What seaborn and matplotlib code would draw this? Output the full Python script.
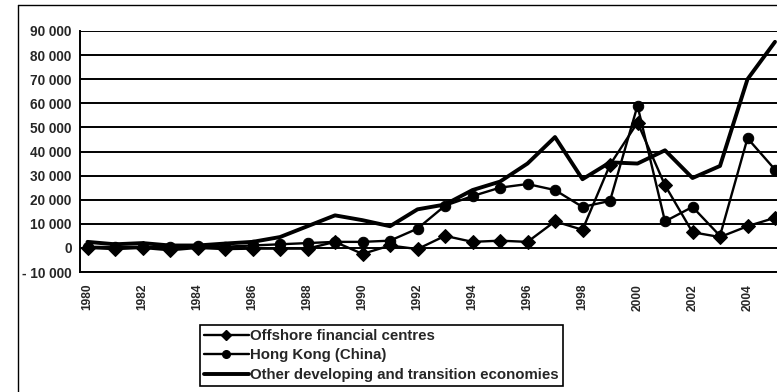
import matplotlib
matplotlib.use("Agg")
import matplotlib.pyplot as plt
import numpy as np
import pandas as pd
import seaborn as sns
from matplotlib.lines import Line2D
from matplotlib.ticker import FuncFormatter

# FDI outflows, millions of dollars
years = list(range(1980, 2006))
offshore = [0, -500, 0, -1000, 0, -500, -300, -300, -300, 2500, -2500, 1000, -500,
            5000, 2500, 3000, 2500, 11000, 7500, 34500, 52000, 26000, 6500, 4500, 9000, 12500]
hong_kong = [500, 300, 500, 300, 700, 500, 1000, 1500, 2000, 2500, 2500, 3000, 8000,
             17500, 21500, 25000, 26500, 24000, 17000, 19500, 59000, 11000, 17000, 5000, 45500, 32500]
other = [2500, 1500, 2000, 1000, 1000, 1800, 2500, 4500, 9000, 13500, 11500, 9000, 16000,
         18000, 24000, 27500, 35000, 46000, 28500, 35500, 35000, 40500, 29000, 34000, 70000, 85500]

series_names = ["Offshore financial centres", "Hong Kong (China)",
                "Other developing and transition economies"]
year_ticks = list(range(1980, 2005, 2))
y_ticks = list(range(-10000, 90001, 10000))

sns.set_style("white")
plt.rcParams["font.family"] = ["Liberation Sans", "DejaVu Sans"]
plt.rcParams["font.weight"] = "bold"

W, H = 777, 392
fig = plt.figure(figsize=(W / 100, H / 100), dpi=100)
ax = fig.add_axes([80 / W, 1 - 272 / H, (W - 80) / W, 241 / H])

df = pd.DataFrame({"year": years, "offshore": offshore,
                   "hk": hong_kong, "other": other})

sns.lineplot(data=df, x="year", y="other", ax=ax, color="black", lw=2.8,
             zorder=3)
sns.lineplot(data=df, x="year", y="hk", ax=ax, color="black", lw=1.7,
             marker="o", markersize=7.5, markeredgecolor="black", zorder=4)
sns.lineplot(data=df, x="year", y="offshore", ax=ax, color="black", lw=1.7,
             marker="D", markersize=7, markeredgecolor="black", zorder=5)

ax.set_xlim(1980 - 7.5 / 27.5, 2005 + 2 / 27.5)
ax.set_ylim(-10000, 90000)
ax.set_yticks(y_ticks)
ax.set_xticks(year_ticks)


def thousands(v, pos):
    s = f"{abs(int(round(v))):,}".replace(",", " ")
    return "- " + s if v < 0 else s


ax.yaxis.set_major_formatter(FuncFormatter(thousands))
ax.set_xticklabels([str(y) for y in year_ticks], rotation=90)
ax.tick_params(axis="y", length=0, pad=6, labelsize=9.8)
ax.tick_params(axis="x", length=0, pad=8.5, labelsize=8.6)
for lab in ax.get_xticklabels() + ax.get_yticklabels():
    lab.set_fontweight("bold")

ax.set_xlabel("")
ax.set_ylabel("")
ax.grid(axis="y", color="black", lw=1.4)
ax.grid(axis="x", visible=False)
ax.set_axisbelow(True)
for side in ("right", "top"):
    ax.spines[side].set_visible(False)
for side in ("left", "bottom"):
    ax.spines[side].set_color("black")
    ax.spines[side].set_linewidth(1.4)

handles = [
    Line2D([], [], color="black", lw=1.7, marker="D", markersize=5.5),
    Line2D([], [], color="black", lw=1.7, marker="o", markersize=5.5),
    Line2D([], [], color="black", lw=2.8),
]
leg = fig.legend(handles, series_names, loc="upper left",
                 bbox_to_anchor=(200 / W, 1 - 325 / H), frameon=True,
                 fancybox=False, edgecolor="black", framealpha=1,
                 handlelength=3.0, handletextpad=0.1, labelspacing=0.38,
                 borderpad=0.25, borderaxespad=0,
                 prop={"weight": "bold", "size": 10.8})
leg.get_frame().set_linewidth(1.2)

# chart area border
fig.add_artist(Line2D([18 / W, 18 / W], [0, 1 - 5 / H], transform=fig.transFigure,
                      color="black", lw=1.0))
fig.add_artist(Line2D([18 / W, 1], [1 - 5 / H, 1 - 5 / H], transform=fig.transFigure,
                      color="black", lw=1.0))

fig.savefig("out.png", dpi=100)
